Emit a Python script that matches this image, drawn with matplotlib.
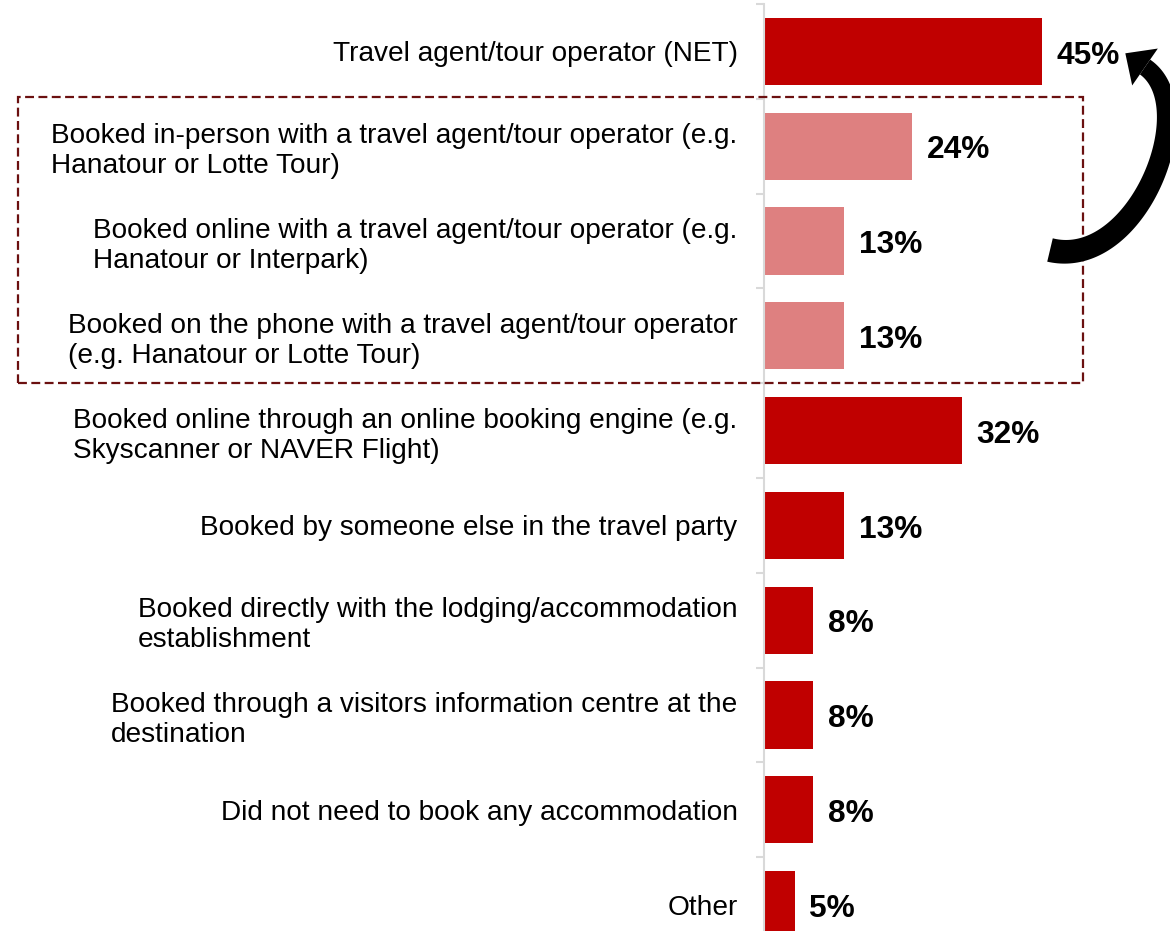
import numpy as np
import matplotlib
matplotlib.use("Agg")
import matplotlib.pyplot as plt
from matplotlib.patches import Rectangle, Polygon

plt.rcParams['font.family'] = ['Liberation Sans', 'DejaVu Sans']

categories = [
    "Travel agent/tour operator (NET)",
    "Booked in-person with a travel agent/tour operator (e.g.\nHanatour or Lotte Tour)",
    "Booked online with a travel agent/tour operator (e.g.\nHanatour or Interpark)",
    "Booked on the phone with a travel agent/tour operator\n(e.g. Hanatour or Lotte Tour)",
    "Booked online through an online booking engine (e.g.\nSkyscanner or NAVER Flight)",
    "Booked by someone else in the travel party",
    "Booked directly with the lodging/accommodation\nestablishment",
    "Booked through a visitors information centre at the\ndestination",
    "Did not need to book any accommodation",
    "Other",
]
values = [45, 24, 13, 13, 32, 13, 8, 8, 8, 5]
sub_rows = [1, 2, 3]  # breakdown of the NET row

DARK = "#C00000"
LIGHT = "#DE8080"
colors = [LIGHT if i in sub_rows else DARK for i in range(len(values))]

W, H = 1170, 931
fig = plt.figure(figsize=(W / 100, H / 100), dpi=100)


def fig_xy(x, y):
    """Pixel position (origin top-left) -> figure fraction."""
    return (x / W, 1 - y / H)


# axes in pixel geometry: top at 4 px, each category row ~94.8 px tall
x0, top = 764, 4
row = 94.8
n = len(values)
bottom_px = top + n * row
ax = fig.add_axes([x0 / W, 1 - bottom_px / H, (W - x0) / W, (bottom_px - top) / H])

ypos = list(range(n))
ax.barh(ypos, values, height=0.71, color=colors, zorder=2)
ax.set_ylim(n - 0.5, -0.5)
px_per_pct = 6.18
ax.set_xlim(0, (W - x0) / px_per_pct)

for y, v in zip(ypos, values):
    ax.annotate(f"{v}%", xy=(v, y), xytext=(10.5, -8.8), textcoords="offset points",
                ha="left", va="baseline", fontsize=22.8, fontweight="bold", color="black")

for s in ["top", "right", "bottom"]:
    ax.spines[s].set_visible(False)
ax.spines["left"].set_color("#D9D9D9")
ax.spines["left"].set_linewidth(1.5)
ax.set_xticks([])

ax.set_yticks(ypos)
ax.set_yticklabels(categories, fontsize=20.2)
for lab in ax.get_yticklabels():
    lab.set_multialignment("left")
ax.tick_params(axis="y", which="major", length=0, pad=19)
ax.set_yticks([i - 0.5 for i in range(n + 1)], minor=True)
ax.tick_params(axis="y", which="minor", length=6, width=1.5, color="#D9D9D9")

# dashed frame around the NET breakdown rows
box = Rectangle(fig_xy(18, 383), (1083 - 18) / W, (383 - 97) / H,
                transform=fig.transFigure, fill=False, edgecolor="#6B1010",
                linewidth=1.6, linestyle=(0, (4, 2)), clip_on=False, zorder=5)
fig.add_artist(box)

# curved arrow from the breakdown back up to the NET value (cubic Bezier shaft)
P0 = np.array([1050.0, 250.0])
d0 = np.array([0.97, 0.23])
P3 = np.array([1145.0, 67.0])
d3 = np.array([-0.82, -0.57])
P1 = P0 + 90 * d0
P2 = P3 - 70 * d3
t = np.linspace(0, 1, 120)[:, None]
pts = ((1 - t) ** 3) * P0 + 3 * ((1 - t) ** 2) * t * P1 + 3 * (1 - t) * t ** 2 * P2 + t ** 3 * P3
tan = 3 * ((1 - t) ** 2) * (P1 - P0) + 6 * (1 - t) * t * (P2 - P1) + 3 * t ** 2 * (P3 - P2)
tan = tan / np.linalg.norm(tan, axis=1, keepdims=True)
nrm = np.column_stack([-tan[:, 1], tan[:, 0]])
half_w = (24 - 6 * t[:, 0]) / 2
side_a = pts + nrm * half_w[:, None]
side_b = pts - nrm * half_w[:, None]
shaft_pts = np.vstack([side_a, side_b[::-1]])
shaft = Polygon([fig_xy(x, y) for x, y in shaft_pts], closed=True,
                transform=fig.transFigure, facecolor="black", edgecolor="none", zorder=6)
fig.add_artist(shaft)

head_len, head_w = 24.0, 45.0
nb = np.array([-d3[1], d3[0]])
tip = P3 + head_len * d3
head = Polygon([fig_xy(*(P3 + nb * head_w / 2)), fig_xy(*tip), fig_xy(*(P3 - nb * head_w / 2))],
               closed=True, transform=fig.transFigure, facecolor="black",
               edgecolor="none", zorder=6)
fig.add_artist(head)

fig.savefig("out.png", dpi=100)
